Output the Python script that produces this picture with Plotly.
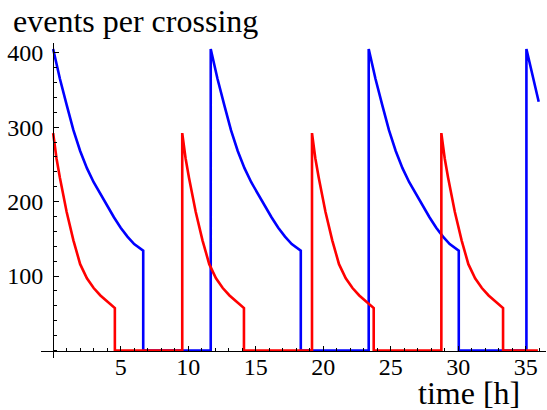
import plotly.graph_objects as go

# ---- data ----
blue_shape_t = [0, 0.5, 1.0, 1.5, 2.0, 2.5, 3.0, 3.5, 4.0, 4.5, 5.0, 5.5, 6.0, 6.67]
blue_shape_v = [405, 365, 330, 296, 268, 245, 226, 210, 195, 179, 165, 153, 143, 134]
blue_starts = [0, 11.67, 23.37, 35.05]
blue_end_t = 35.96
blue_end_v = 334

red_shape_t = [0, 0.25, 0.5, 0.75, 1.0, 1.5, 2.0, 2.5, 3.0, 3.5, 4.0, 4.57]
red_shape_v = [292, 258, 232, 210, 186, 148, 116, 97, 84, 74, 66, 57]
red_starts = [0, 9.56, 19.17, 28.75]
red_end_t = 35.9

x_ticks = [5, 10, 15, 20, 25, 30, 35]
y_ticks = [100, 200, 300, 400]


def build(shape_t, shape_v, starts, end_t, end_v=None):
    xs, ys = [], []
    for i, s in enumerate(starts):
        if i > 0:
            xs.append(s); ys.append(0)
        last = i == len(starts) - 1
        for t, v in zip(shape_t, shape_v):
            if last and end_v is not None and s + t > end_t:
                break
            xs.append(s + t); ys.append(v)
        if last and end_v is not None:
            xs.append(end_t); ys.append(end_v)
        else:
            xs.append(s + shape_t[-1]); ys.append(0)
            if last:
                xs.append(end_t); ys.append(0)
    return xs, ys


bx, by = build(blue_shape_t, blue_shape_v, blue_starts, blue_end_t, blue_end_v)
rx, ry = build(red_shape_t, red_shape_v, red_starts, red_end_t)

fig = go.Figure()
fig.add_trace(go.Scatter(x=bx, y=by, mode="lines",
                         line=dict(color="#0000ff", width=2.6), hoverinfo="skip"))
fig.add_trace(go.Scatter(x=rx, y=ry, mode="lines",
                         line=dict(color="#ff0000", width=2.6), hoverinfo="skip"))

W, H = 547, 410
ml, mr, mt, mb = 41.35, 0.75, 43, 52.3
xr = [-0.9, 36.5]
yr = [-10, 413]
xpos = (0 - yr[0]) / (yr[1] - yr[0])
ypos = (0 - xr[0]) / (xr[1] - xr[0])

font = "Liberation Serif, Times New Roman, serif"

fig.update_layout(
    width=W, height=H,
    margin=dict(l=ml, r=mr, t=mt, b=mb, pad=0, autoexpand=False),
    paper_bgcolor="white", plot_bgcolor="white",
    showlegend=False,
    font=dict(family=font, size=24, color="black"),
    xaxis=dict(range=xr, anchor="free", position=xpos, showline=True,
               linecolor="black", linewidth=1, showgrid=False, zeroline=False,
               tickvals=x_ticks, ticks="inside", ticklen=5, tickcolor="black",
               ticklabelstandoff=-5,
               minor=dict(dtick=1, tick0=0, ticks="inside", ticklen=3, tickcolor="black"),
               tickfont=dict(family=font, size=24)),
    yaxis=dict(range=yr, anchor="free", position=ypos, showline=True,
               linecolor="black", linewidth=1, showgrid=False, zeroline=False,
               tickvals=y_ticks, ticks="inside", ticklen=5, tickcolor="black",
               ticklabelstandoff=5,
               minor=dict(dtick=20, tick0=0, ticks="inside", ticklen=3, tickcolor="black"),
               tickfont=dict(family=font, size=24)),
)

ph = H - mt - mb
pw = W - ml - mr


def px2paper(xp, yp):
    return (xp - ml) / pw, (H - mb - yp) / ph


ax, ay = px2paper(11, 21)
fig.add_annotation(x=ax, y=ay, xref="paper", yref="paper", xanchor="left",
                   yanchor="middle", showarrow=False, text="events per crossing",
                   font=dict(family=font, size=32, color="black"))
ax, ay = px2paper(416, 393)
fig.add_annotation(x=ax, y=ay, xref="paper", yref="paper", xanchor="left",
                   yanchor="middle", showarrow=False, text="time [h]",
                   font=dict(family=font, size=32, color="black"))

fig.write_html("out.html", config={"displayModeBar": False, "staticPlot": True},
               post_script="document.body.style.margin='0px';document.body.style.overflow='hidden';")
